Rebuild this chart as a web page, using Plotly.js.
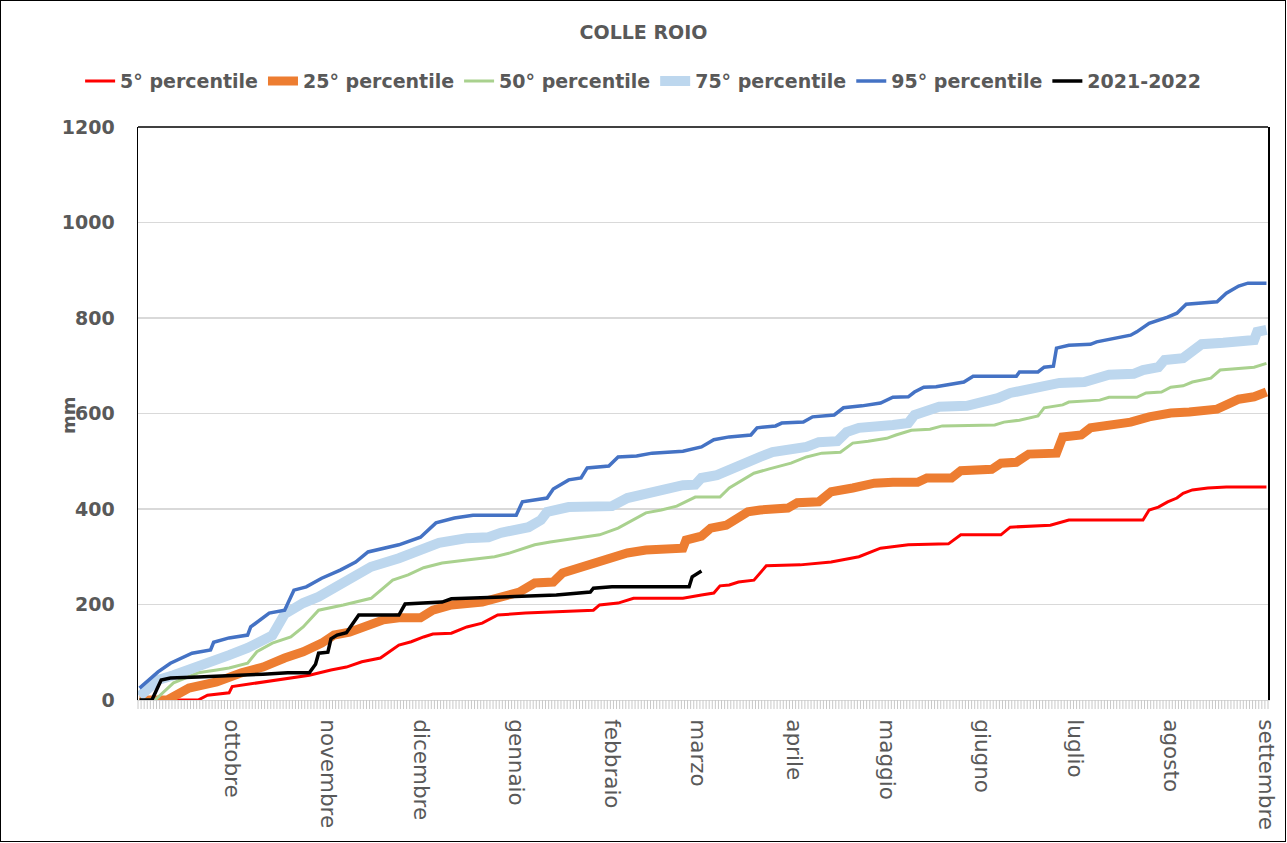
<!DOCTYPE html>
<html>
<head>
<meta charset="utf-8">
<script src="https://cdn.plot.ly/plotly-3.0.1.min.js"></script>
<style>
  html, body { margin: 0; padding: 0; background: #fff; }
  #wrap { position: relative; width: 1287px; height: 843px; }
  #chart { width: 1287px; height: 843px; }
  #frame { position: absolute; left: 0; top: 0; width: 1284px; height: 840px; border: 1.5px solid #000; pointer-events: none; }
</style>
</head>
<body>
<div id="wrap"><div id="chart"></div><div id="frame"></div></div>
<script>
// Day index: 0 = 1 September 2021
const monthTickDays = [30, 61, 91, 122, 153, 181, 212, 242, 273, 303, 334, 365];
const monthLabels = ["ottobre", "novembre", "dicembre", "gennaio", "febbraio", "marzo", "aprile", "maggio", "giugno", "luglio", "agosto", "settembre"];

const p5Days = [0,10,19,22,29,30,38,45,51,55,62,67,72,78,84,88,92,95,101,106,111,116,125,132,147,149,155,160,176,182,186,188,191,194,199,203,214,224,233,240,249,262,266,279,282,295,301,325,327,330,333,336,338,341,346,352,365];
const p5Vals = [0,0,0,10,15,28,36,42,48,52,63,69,80,88,115,122,132,138,140,153,161,178,182,184,188,199,203,213,213,220,224,239,241,247,251,281,283,289,300,318,325,327,346,346,362,366,377,377,398,404,415,423,433,440,444,446,446];

const p25Days = [0,9,16,25,33,40,47,53,59,63,68,72,79,84,91,95,101,111,119,123,128,134,137,143,147,151,158,164,173,176,177,182,185,190,197,201,210,213,220,224,231,238,244,252,255,263,266,276,279,284,288,297,299,305,308,314,321,327,334,340,349,352,356,361,365];
const p25Vals = [0,0,25,38,57,69,88,101,119,136,142,153,168,172,172,188,199,205,216,226,245,247,266,279,287,297,308,314,314,318,335,343,360,366,394,398,402,413,415,436,444,454,456,456,465,465,480,483,496,498,515,517,551,555,570,574,582,593,601,603,609,618,630,635,645];

const p50Days = [0,5,11,19,25,29,35,38,43,49,53,58,66,70,75,82,87,92,98,106,115,120,123,128,133,140,149,155,158,164,169,174,180,188,191,199,204,211,216,221,227,231,236,242,245,250,256,260,277,280,285,291,293,299,301,311,314,323,326,331,334,338,341,347,350,356,361,365];
const p50Vals = [0,0,36,57,63,67,77,101,119,132,153,188,199,205,213,251,262,277,287,293,300,308,314,325,331,337,346,360,371,392,398,406,425,425,444,475,484,496,509,517,519,538,542,548,555,565,567,574,576,582,586,595,612,618,624,628,634,634,643,645,655,658,666,674,691,695,697,705];

const p75Days = [0,6,11,19,25,29,35,43,47,53,58,64,70,75,84,89,94,97,106,113,117,126,130,132,139,153,158,164,171,176,180,182,187,191,196,201,205,216,220,226,229,233,244,249,251,256,259,268,272,278,282,287,293,298,306,311,314,322,325,330,332,338,343,344,351,357,361,362,365];
const p75Vals = [8,42,52,69,84,94,109,135,180,203,216,237,262,279,297,310,320,329,339,341,350,362,377,394,404,406,423,433,446,450,451,465,471,483,498,509,519,530,540,542,561,570,576,580,597,607,614,616,622,632,643,649,658,664,666,676,681,683,691,697,712,716,737,745,748,750,754,771,775];

const p95Days = [0,6,10,17,23,24,29,35,36,42,47,50,54,59,65,70,74,80,84,91,96,102,108,122,124,132,134,139,143,145,152,155,161,166,176,182,186,191,198,200,206,208,215,218,225,228,234,240,244,249,251,254,258,267,270,284,285,291,293,296,297,301,308,310,315,321,323,327,333,336,339,349,352,356,359,365];
const p95Vals = [25,59,77,98,105,121,130,136,153,182,188,230,237,255,272,289,310,320,325,341,371,381,387,387,415,423,442,461,465,486,490,509,511,517,521,530,545,551,555,570,574,580,582,593,597,612,616,622,634,635,645,655,656,666,678,678,687,687,697,699,737,743,745,750,756,764,771,789,802,810,829,834,852,867,873,873];

const y2122Days = [0,4,7,10,19,29,40,48,55,57,58,61,62,64,67,71,84,86,98,101,117,135,146,147,153,178,179,182];
const y2122Vals = [0,0,42,46,48,50,54,57,57,75,98,100,128,136,141,178,178,201,205,212,216,220,226,234,237,237,258,270];

const seriesNames = ["5° percentile", "25° percentile", "50° percentile", "75° percentile", "95° percentile", "2021-2022"];

const grey = "#595959";
const font = "DejaVu Sans, Open Sans, sans-serif";
const xRange = [-0.5, 365.5];

function tr(name, xs, ys, color, width) {
  return { type: "scatter", mode: "lines", name: name, x: xs, y: ys,
           line: { color: color, width: width, shape: "linear" }, hoverinfo: "skip" };
}

const data = [
  tr(seriesNames[0], p5Days, p5Vals, "#FF0000", 3),
  tr(seriesNames[1], p25Days, p25Vals, "#ED7D31", 9),
  tr(seriesNames[2], p50Days, p50Vals, "#A9D18E", 3),
  tr(seriesNames[3], p75Days, p75Vals, "#BDD7EE", 10),
  tr(seriesNames[4], p95Days, p95Vals, "#4472C4", 3.5),
  tr(seriesNames[5], y2122Days, y2122Vals, "#000000", 3.5)
];

// small daily tick marks under the category axis, at each category boundary,
// expressed as a fraction of the x-axis domain (unclipped)
const tickShapes = [];
for (let d = xRange[0]; d <= xRange[1] + 1e-9; d += 1) {
  const f = (d - xRange[0]) / (xRange[1] - xRange[0]);
  tickShapes.push({ type: "line", xref: "x domain", yref: "y domain", x0: f, x1: f, y0: 0, y1: -9/573,
                    line: { color: "#c8c8c8", width: 1 }, layer: "above" });
}

const layout = {
  width: 1287, height: 843,
  paper_bgcolor: "#ffffff", plot_bgcolor: "#ffffff",
  margin: { l: 138, r: 19, t: 127, b: 143 },
  font: { family: font, color: grey },
  title: { text: "<b>COLLE ROIO</b>", font: { family: font, size: 19, color: grey },
           x: 0.5, xref: "container", xanchor: "center", y: 1 - 32/843, yref: "container", yanchor: "middle" },
  showlegend: true,
  legend: { orientation: "h", x: 0.447, xref: "paper", xanchor: "center", y: 1.08, yref: "paper", yanchor: "middle",
            font: { family: font, size: 19, color: grey, weight: "bold" }, itemwidth: 30 },
  xaxis: {
    range: xRange, tickmode: "array", tickvals: monthTickDays, ticktext: monthLabels,
    tickangle: 90, ticks: "", showgrid: false, zeroline: false,
    showline: true, linecolor: "#d9d9d9", linewidth: 1,
    tickfont: { family: font, size: 21.5, color: grey },
    ticklabelstandoff: 14
  },
  yaxis: {
    range: [0, 1200], tickmode: "array", tickvals: [0,200,400,600,800,1000,1200],
    ticks: "", showgrid: true, gridcolor: "#d9d9d9", gridwidth: 1.3, zeroline: false,
    showline: true, linecolor: "#000000", linewidth: 1.5, mirror: true,
    tickfont: { family: font, size: 19, color: grey, weight: "bold" },
    ticklabelstandoff: 18
  },
  annotations: [
    { text: "<b>mm</b>", xref: "paper", yref: "paper", x: -70/1130, y: (700-415)/573, xanchor: "center", yanchor: "middle",
      textangle: -90, showarrow: false, font: { family: font, size: 18, color: grey } }
  ],
  shapes: tickShapes.concat([
    { type: "line", xref: "paper", yref: "paper", x0: 0, x1: 1, y0: 1, y1: 1, line: { color: "#000", width: 1.5 } }
  ])
};

Plotly.newPlot("chart", data, layout, { staticPlot: true, displayModeBar: false });
</script>
</body>
</html>
